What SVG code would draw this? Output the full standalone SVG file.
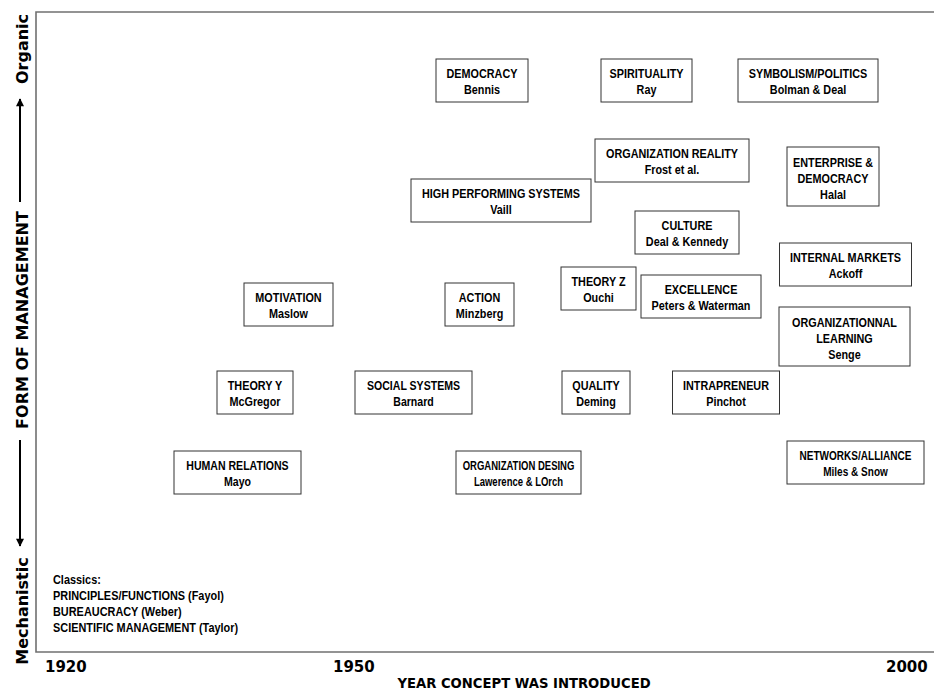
<svg xmlns="http://www.w3.org/2000/svg" width="934" height="691" viewBox="0 0 934 691">
  <style>
    .box { fill: #ffffff; stroke: #333333; stroke-width: 1; }
    .lbl { font-family: "Liberation Sans", Arial, sans-serif; font-weight: bold; font-size: 13.2px; text-anchor: middle; fill: #000; }
    .cls { font-family: "Liberation Sans", Arial, sans-serif; font-weight: bold; font-size: 13.3px; fill: #000; }
    .axis { font-family: "DejaVu Sans", "Liberation Sans", Arial, sans-serif; font-weight: bold; font-size: 16px; fill: #000; text-anchor: middle; }
    .xt { font-family: "DejaVu Sans", "Liberation Sans", Arial, sans-serif; font-weight: bold; font-size: 13.2px; fill: #000; text-anchor: middle; }
    .year { font-family: "DejaVu Sans", "Liberation Sans", Arial, sans-serif; font-weight: bold; font-size: 15px; fill: #000; }
    .frame { fill: none; stroke: #707070; stroke-width: 1.6; }
    .arr { stroke: #000; stroke-width: 2; fill: none; }
  </style>
  <defs>
    <marker id="head" viewBox="0 0 10 10" refX="9" refY="5" markerWidth="4.5" markerHeight="4" orient="auto" markerUnits="strokeWidth">
      <path d="M0,0 L10,5 L0,10 z" fill="#000"/>
    </marker>
  </defs>
  <rect width="934" height="691" fill="#ffffff"/>

  <!-- plot frame: left and top edges plus baseline -->
  <path class="frame" d="M934,12 H36 V652 H934"/>

  <!-- vertical axis title -->
  <g id="y-axis">
    <text class="axis" transform="translate(28,49) rotate(-90)">Organic</text>
    <text class="axis" transform="translate(28,320) rotate(-90)">FORM OF MANAGEMENT</text>
    <text class="axis" transform="translate(28,611) rotate(-90)">Mechanistic</text>
  </g>
  <g id="connectors">
    <line class="arr" x1="20" y1="202" x2="20" y2="99" marker-end="url(#head)"/>
    <line class="arr" x1="20" y1="440" x2="20" y2="546" marker-end="url(#head)"/>
  </g>

  <!-- horizontal axis -->
  <g id="x-axis">
    <text class="year" x="45" y="672">1920</text>
    <text class="year" x="333" y="672">1950</text>
    <text class="year" x="886" y="672">2000</text>
    <text class="xt" x="524" y="688">YEAR CONCEPT WAS INTRODUCED</text>
  </g>

  <!-- classic schools listed at the origin -->
  <g id="classics" transform="translate(53 0) scale(0.82 1)">
    <text class="cls" x="0" y="584">Classics:</text>
    <text class="cls" x="0" y="600">PRINCIPLES/FUNCTIONS (Fayol)</text>
    <text class="cls" x="0" y="616">BUREAUCRACY (Weber)</text>
    <text class="cls" x="0" y="632">SCIENTIFIC MANAGEMENT (Taylor)</text>
  </g>

  <!-- concept nodes: each group is placed at (box centre x, box top) -->
  <g id="democracy" transform="translate(482 59)">
    <rect class="box" x="-46" y="0" width="92" height="43"/>
    <g transform="scale(0.82 1)"><text class="lbl" y="19.5">DEMOCRACY</text><text class="lbl" y="35.5">Bennis</text></g>
  </g>
  <g id="spirituality" transform="translate(646.5 59)">
    <rect class="box" x="-45.5" y="0" width="91" height="43"/>
    <g transform="scale(0.82 1)"><text class="lbl" y="19.5">SPIRITUALITY</text><text class="lbl" y="35.5">Ray</text></g>
  </g>
  <g id="symbolism" transform="translate(808 59)">
    <rect class="box" x="-70" y="0" width="140" height="43"/>
    <g transform="scale(0.82 1)"><text class="lbl" y="19.5">SYMBOLISM/POLITICS</text><text class="lbl" y="35.5">Bolman &amp; Deal</text></g>
  </g>
  <g id="org-reality" transform="translate(672 139)">
    <rect class="box" x="-77" y="0" width="154" height="43"/>
    <g transform="scale(0.82 1)"><text class="lbl" y="19.5">ORGANIZATION REALITY</text><text class="lbl" y="35.5">Frost et al.</text></g>
  </g>
  <g id="enterprise" transform="translate(833 147)">
    <rect class="box" x="-46" y="0" width="92" height="59"/>
    <g transform="scale(0.82 1)"><text class="lbl" y="20">ENTERPRISE &amp;</text><text class="lbl" y="36">DEMOCRACY</text><text class="lbl" y="52">Halal</text></g>
  </g>
  <g id="high-performing" transform="translate(501 179)">
    <rect class="box" x="-90" y="0" width="180" height="43"/>
    <g transform="scale(0.82 1)"><text class="lbl" y="19.5">HIGH PERFORMING SYSTEMS</text><text class="lbl" y="35.5">Vaill</text></g>
  </g>
  <g id="culture" transform="translate(687 211)">
    <rect class="box" x="-52" y="0" width="104" height="43"/>
    <g transform="scale(0.82 1)"><text class="lbl" y="19.5">CULTURE</text><text class="lbl" y="35.5">Deal &amp; Kennedy</text></g>
  </g>
  <g id="internal-markets" transform="translate(845.5 243)">
    <rect class="box" x="-66" y="0" width="132" height="43"/>
    <g transform="scale(0.82 1)"><text class="lbl" y="19.5">INTERNAL MARKETS</text><text class="lbl" y="35.5">Ackoff</text></g>
  </g>
  <g id="theory-z" transform="translate(598.5 267)">
    <rect class="box" x="-37.5" y="0" width="75" height="43"/>
    <g transform="scale(0.82 1)"><text class="lbl" y="19.5">THEORY Z</text><text class="lbl" y="35.5">Ouchi</text></g>
  </g>
  <g id="excellence" transform="translate(701 275)">
    <rect class="box" x="-60" y="0" width="120" height="43"/>
    <g transform="scale(0.82 1)"><text class="lbl" y="19.5">EXCELLENCE</text><text class="lbl" y="35.5">Peters &amp; Waterman</text></g>
  </g>
  <g id="action" transform="translate(479.5 283)">
    <rect class="box" x="-34.5" y="0" width="69" height="43"/>
    <g transform="scale(0.82 1)"><text class="lbl" y="19.5">ACTION</text><text class="lbl" y="35.5">Minzberg</text></g>
  </g>
  <g id="motivation" transform="translate(288.5 283)">
    <rect class="box" x="-44.5" y="0" width="89" height="43"/>
    <g transform="scale(0.82 1)"><text class="lbl" y="19.5">MOTIVATION</text><text class="lbl" y="35.5">Maslow</text></g>
  </g>
  <g id="org-learning" transform="translate(844.5 307)">
    <rect class="box" x="-65.5" y="0" width="131" height="59"/>
    <g transform="scale(0.82 1)"><text class="lbl" y="20">ORGANIZATIONNAL</text><text class="lbl" y="36">LEARNING</text><text class="lbl" y="52">Senge</text></g>
  </g>
  <g id="theory-y" transform="translate(255 371)">
    <rect class="box" x="-38" y="0" width="76" height="43"/>
    <g transform="scale(0.82 1)"><text class="lbl" y="19.5">THEORY Y</text><text class="lbl" y="35.5">McGregor</text></g>
  </g>
  <g id="social-systems" transform="translate(413.5 371)">
    <rect class="box" x="-58.5" y="0" width="117" height="43"/>
    <g transform="scale(0.8 1)"><text class="lbl" y="19.5">SOCIAL SYSTEMS</text><text class="lbl" y="35.5">Barnard</text></g>
  </g>
  <g id="quality" transform="translate(596 371)">
    <rect class="box" x="-34" y="0" width="68" height="43"/>
    <g transform="scale(0.82 1)"><text class="lbl" y="19.5">QUALITY</text><text class="lbl" y="35.5">Deming</text></g>
  </g>
  <g id="intrapreneur" transform="translate(726 371)">
    <rect class="box" x="-53.5" y="0" width="107" height="43"/>
    <g transform="scale(0.82 1)"><text class="lbl" y="19.5">INTRAPRENEUR</text><text class="lbl" y="35.5">Pinchot</text></g>
  </g>
  <g id="human-relations" transform="translate(237.5 451)">
    <rect class="box" x="-63.5" y="0" width="127" height="43"/>
    <g transform="scale(0.8 1)"><text class="lbl" y="19.5">HUMAN RELATIONS</text><text class="lbl" y="35.5">Mayo</text></g>
  </g>
  <g id="org-design" transform="translate(518.5 451)">
    <rect class="box" x="-62.5" y="0" width="125" height="43"/>
    <g transform="scale(0.72 1)"><text class="lbl" y="19.5">ORGANIZATION DESING</text><text class="lbl" y="35.5">Lawerence &amp; LOrch</text></g>
  </g>
  <g id="networks" transform="translate(855.5 441)">
    <rect class="box" x="-68.5" y="0" width="137" height="43"/>
    <g transform="scale(0.76 1)"><text class="lbl" y="19.5">NETWORKS/ALLIANCE</text><text class="lbl" y="35.5">Miles &amp; Snow</text></g>
  </g>
</svg>
